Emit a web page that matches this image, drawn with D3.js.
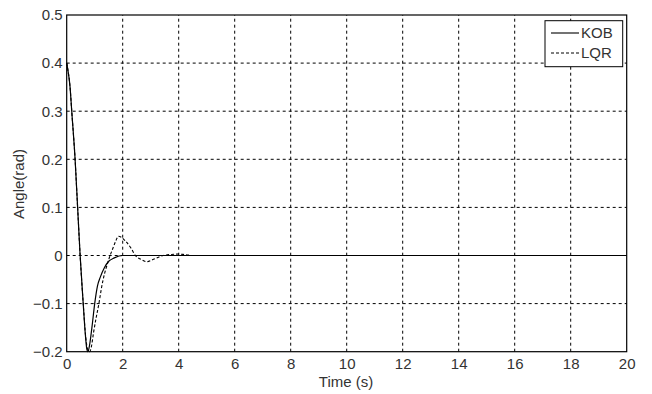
<!DOCTYPE html>
<html><head><meta charset="utf-8">
<script src="https://cdn.jsdelivr.net/npm/d3@7"></script>
<style>body{margin:0;background:#fff}svg{display:block}text{font-family:"Liberation Sans",Arial,sans-serif}</style>
</head><body>
<svg id="c" width="652" height="394"></svg>
<script>
const xTicks = [0,2,4,6,8,10,12,14,16,18,20];
const yTicks = [-0.2,-0.1,0,0.1,0.2,0.3,0.4,0.5];
const kobT = [0,0.03,0.12,0.18,0.3,0.39,0.48,0.59,0.66,0.72,0.76,0.82,0.9,1.0,1.1,1.2,1.35,1.5,1.7,2.0,3,5,10,20];
const kobV = [0.4,0.39,0.35,0.3,0.2,0.1,0.0,-0.1,-0.16,-0.195,-0.2,-0.185,-0.15,-0.1,-0.063,-0.045,-0.025,-0.012,-0.005,0,0,0,0,0];
const lqrT = [0,0.03,0.12,0.18,0.3,0.39,0.48,0.59,0.68,0.76,0.82,0.88,0.96,1.05,1.15,1.25,1.35,1.45,1.55,1.65,1.75,1.85,1.95,2.1,2.3,2.45,2.65,2.86,3.1,3.45,3.7,4.0,4.2,4.45];
const lqrV = [0.4,0.39,0.35,0.3,0.2,0.1,0.0,-0.1,-0.17,-0.197,-0.2,-0.19,-0.16,-0.13,-0.1,-0.065,-0.038,-0.018,0.0,0.015,0.03,0.04,0.038,0.03,0.015,0.0,-0.008,-0.013,-0.008,0.0,0.002,0.003,0.002,0.0];
const seriesNames = ["KOB","LQR"];

const svg = d3.select("#c");
const x = d3.scaleLinear().domain([0,20]).range([66.7,626.7]);
const y = d3.scaleLinear().domain([-0.2,0.5]).range([351.7,15]);
const g = svg.append("g");
const FS = 15;

// grid
g.selectAll(".gx").data(xTicks.slice(1,-1)).enter().append("line")
 .attr("x1",d=>x(d)).attr("x2",d=>x(d)).attr("y1",y(-0.2)).attr("y2",y(0.5))
 .attr("stroke","#000").attr("stroke-width",1).attr("stroke-dasharray","3,3");
g.selectAll(".gy").data(yTicks.slice(1,-1)).enter().append("line")
 .attr("x1",x(0)).attr("x2",x(20)).attr("y1",d=>y(d)).attr("y2",d=>y(d))
 .attr("stroke","#000").attr("stroke-width",1).attr("stroke-dasharray","3,3");

// axes with d3
const xa = g.append("g").attr("transform",`translate(0,${y(-0.2)})`)
 .call(d3.axisBottom(x).tickValues(xTicks).tickSize(0).tickPadding(7).tickFormat(d3.format("d")));
const ya = g.append("g").attr("transform",`translate(${x(0)},0)`)
 .call(d3.axisLeft(y).tickValues(yTicks).tickSize(0).tickPadding(4).tickFormat(d=>d===0?"0":d3.format(".1f")(d)));
[xa,ya].forEach(a=>{a.attr("font-size",FS).attr("font-family","Liberation Sans, Arial, sans-serif");a.select(".domain").remove();a.selectAll("text").attr("fill","#333");});

// curves
const line = d3.line().x(d=>x(d[0])).y(d=>y(d[1])).curve(d3.curveMonotoneX);
g.append("path").datum(kobT.map((t,i)=>[t,kobV[i]])).attr("d",line)
 .attr("fill","none").attr("stroke","#000").attr("stroke-width",1.2);
g.append("path").datum(lqrT.map((t,i)=>[t,lqrV[i]])).attr("d",line)
 .attr("fill","none").attr("stroke","#000").attr("stroke-width",1.1).attr("stroke-dasharray","3,2");

// frame
g.append("rect").attr("x",x(0)).attr("y",y(0.5)).attr("width",x(20)-x(0)).attr("height",y(-0.2)-y(0.5))
 .attr("fill","none").attr("stroke","#000").attr("stroke-width",1.2);

// labels
svg.append("text").attr("x",346).attr("y",387).attr("text-anchor","middle").attr("font-size",FS).attr("fill","#333").text("Time (s)");
svg.append("text").attr("transform","translate(24,184) rotate(-90)").attr("text-anchor","middle").attr("font-size",FS).attr("fill","#333").text("Angle(rad)");

// legend
const lg = svg.append("g");
lg.append("rect").attr("x",545).attr("y",20.7).attr("width",77.7).attr("height",46).attr("fill","#fff").attr("stroke","#000").attr("stroke-width",1);
seriesNames.forEach((n,i)=>{
  const yy = 33+i*20;
  lg.append("line").attr("x1",551).attr("x2",579).attr("y1",yy).attr("y2",yy).attr("stroke","#000").attr("stroke-width",1.1)
    .attr("stroke-dasharray",i===1?"3,2":null);
  lg.append("text").attr("x",581).attr("y",yy+5).attr("font-size",FS).attr("fill","#333").text(n);
});
</script>
</body></html>
